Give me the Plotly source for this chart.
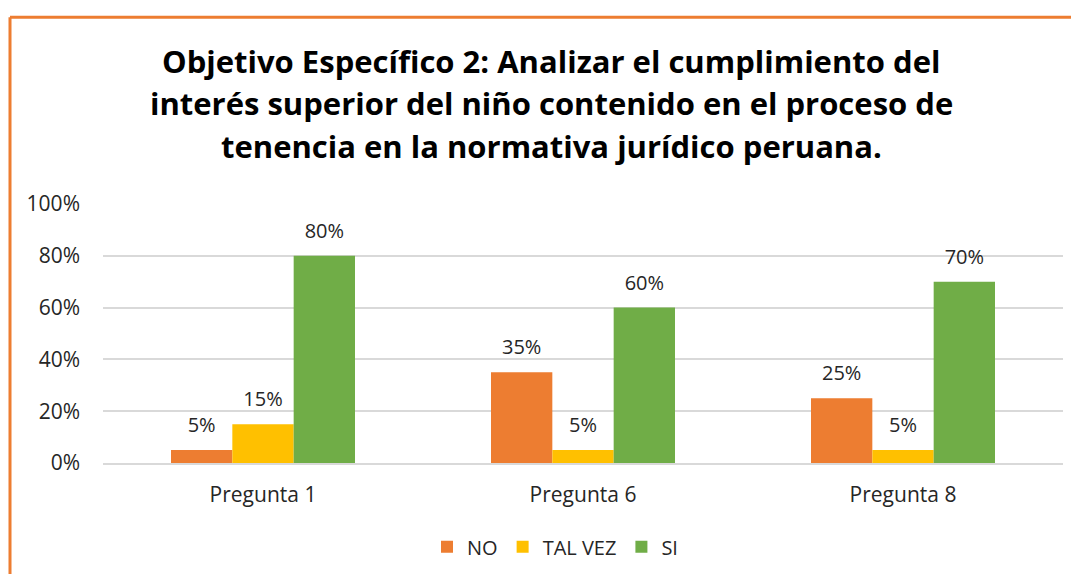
import plotly.graph_objects as go

categories = ["Pregunta 1", "Pregunta 6", "Pregunta 8"]
no_vals = [0.05, 0.35, 0.25]
talvez_vals = [0.15, 0.05, 0.05]
si_vals = [0.80, 0.60, 0.70]
series_names = ["NO", "TAL VEZ", "SI"]
colors = ["#ED7D31", "#FFC000", "#70AD47"]
tick_vals = [0, 0.2, 0.4, 0.6, 0.8, 1.0]
tick_text = ["0%", "20%", "40%", "60%", "80%", "100%"]
title_lines = [
    "Objetivo Específico 2: Analizar el cumplimiento del",
    "interés superior del niño contenido en el proceso de",
    "tenencia en la normativa jurídico peruana.",
]

FONT = "'Open Sans', sans-serif"
TXT = "#262626"
OFF = 8  # page body margin
W, H = 1079 - 2 * OFF, 582 - 2 * OFF
# layout pixel positions (page coords)
PL, PR, PT, PB = 103, 1063, 204, 473
ml, mr, mt, mb = PL - OFF, (W + OFF) - PR, PT - OFF, (H + OFF) - PB
pw, ph = W - ml - mr, H - mt - mb


def px_x(p):
    return (p - PL) / pw


def px_y(p):
    return (PB - p) / ph


fig = go.Figure()
for name, vals, col in zip(series_names, [no_vals, talvez_vals, si_vals], colors):
    fig.add_trace(go.Bar(
        x=categories, y=vals, name=name, offsetgroup=name,
        marker=dict(color=col, line=dict(width=0)), hoverinfo="x+y+name",
    ))
for name, vals in zip(series_names, [no_vals, talvez_vals, si_vals]):
    fig.add_trace(go.Scatter(
        x=categories, y=vals, name=name, offsetgroup=name, mode="markers+text",
        marker=dict(size=19, color="rgba(0,0,0,0)"),
        text=[f"{round(v*100)}%" for v in vals], textposition="top center",
        textfont=dict(size=20, color=TXT, family=FONT), showlegend=False,
        hoverinfo="skip", cliponaxis=False,
    ))

annotations = []
for line, yc in zip(title_lines, [55, 99, 144]):
    annotations.append(dict(
        text=f"<b>{line}</b>", xref="paper", yref="paper", x=px_x(551), y=px_y(yc),
        xanchor="center", yanchor="middle", showarrow=False,
        font=dict(size=31, color="#000000", family=FONT),
    ))

fig.update_layout(
    width=W, height=H,
    margin=dict(l=ml, r=mr, t=mt, b=mb),
    paper_bgcolor="white", plot_bgcolor="white",
    barmode="group", bargap=0.425, bargroupgap=0,
    scattermode="group", scattergap=0.425,
    font=dict(family=FONT, size=20, color=TXT),
    showlegend=True,
    legend=dict(orientation="h", x=px_x(555), xanchor="center", y=px_y(560), yanchor="middle",
                font=dict(size=20, color=TXT, family=FONT), itemwidth=30,
                traceorder="normal"),
    xaxis=dict(showgrid=False, showline=True, linecolor="#d9d9d9", linewidth=2,
               ticks="", tickfont=dict(size=21, color=TXT), ticklabelstandoff=12),
    yaxis=dict(range=[0, 1.0], tickvals=tick_vals, ticktext=tick_text,
               showgrid=True, gridcolor="#d9d9d9", gridwidth=2, zeroline=False,
               showline=False, ticks="", tickfont=dict(size=21, color=TXT),
               ticklabelstandoff=22),
    annotations=annotations,
    shapes=[
        dict(type="line", xref="paper", yref="paper", x0=px_x(10), x1=px_x(1090), y0=px_y(10), y1=px_y(10),
             line=dict(color="#ED7D31", width=3)),
        dict(type="line", xref="paper", yref="paper", x0=px_x(10), x1=px_x(10), y0=px_y(10), y1=px_y(600),
             line=dict(color="#ED7D31", width=3)),
    ],
)

fig.write_html("out.html")
